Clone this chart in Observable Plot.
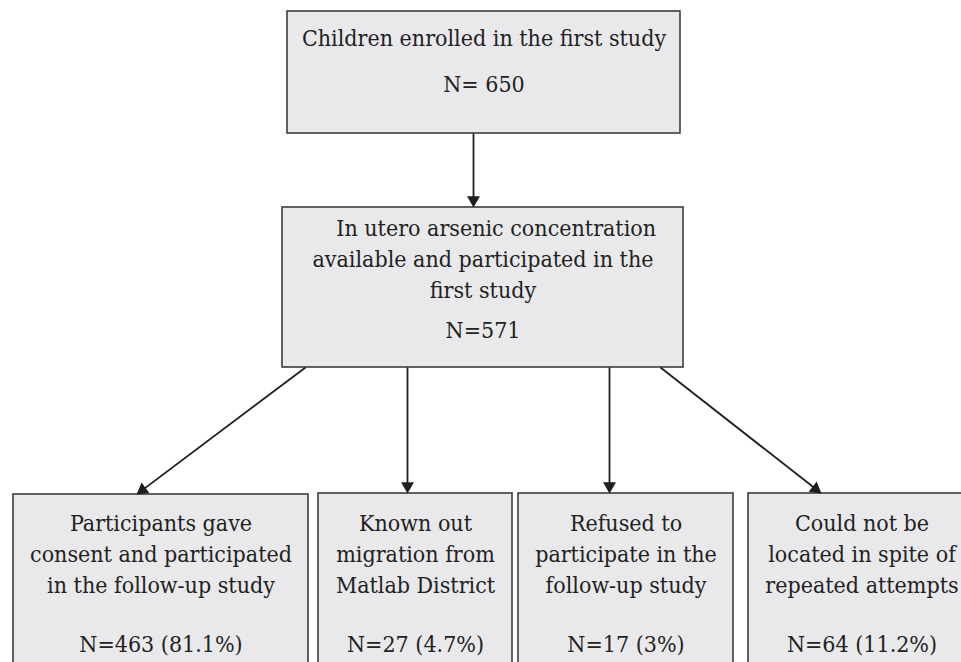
<!DOCTYPE html>
<html>
<head>
<meta charset="utf-8">
<script src="https://cdn.jsdelivr.net/npm/d3@7"></script>
<script src="https://cdn.jsdelivr.net/npm/@observablehq/plot@0.6"></script>
<style>
  html, body { margin: 0; padding: 0; background: #fff; overflow: hidden; }
  #chart { width: 961px; height: 662px; overflow: hidden; }
  #chart text { font-stretch: condensed; }
</style>
</head>
<body>
<div id="chart"></div>
<script>
// ---- Content ----
const stages = [
  "Children enrolled in the first study",
  "\u00a0\u00a0\u00a0\u00a0In utero arsenic concentration\navailable and participated in the\nfirst study",
  "Participants gave\nconsent and participated\nin the follow-up study",
  "Known out\nmigration from\nMatlab District",
  "Refused to\nparticipate in the\nfollow-up study",
  "Could not be\nlocated in spite of\nrepeated attempts"
];
const counts = [650, 571, 463, 27, 17, 64];
const percents = [null, null, "81.1%", "4.7%", "3%", "11.2%"];
const edgeFrom = [0, 1, 1, 1, 1];
const edgeTo = [1, 2, 3, 4, 5];

// ---- Layout (pixels) ----
const boxX1 = [287, 282, 13, 318, 518, 748];
const boxX2 = [680, 683, 308, 512, 733, 975];
const boxY1 = [11, 207, 494, 493, 493, 493];
const boxY2 = [133, 367, 690, 690, 690, 690];
const textBaseline = [40, 230, 525, 525, 525, 525];
const countBaseline = [91, 337, 651, 651, 651, 651];
const edgeStartX = [473, 305, 407, 609, 660];
const edgeEndX = [473, 136, 407, 609, 821];

const FS = 23;
const FONT = "'DejaVu Serif Condensed', 'DejaVu Serif', serif";
const boxes = stages.map((s, i) => ({
  label: s,
  count: i === 0 ? `N= ${counts[i]}` : (percents[i] ? `N=${counts[i]} (${percents[i]})` : `N=${counts[i]}`),
  x1: boxX1[i], x2: boxX2[i], y1: boxY1[i], y2: boxY2[i],
  cx: (boxX1[i] + boxX2[i]) / 2,
  ty: textBaseline[i] - 0.71 * FS,
  ny: countBaseline[i] - 0.71 * FS
}));

const R = 4.8;
const triY = Math.sqrt((Math.PI * R * R) / (3 * Math.sqrt(3)));
const edges = edgeFrom.map((f, k) => {
  const t = edgeTo[k];
  const x1 = edgeStartX[k], y1 = boxY2[f];
  const x2 = edgeEndX[k], y2 = boxY1[t];
  const dx = x2 - x1, dy = y2 - y1, len = Math.hypot(dx, dy);
  const ux = dx / len, uy = dy / len;
  return {
    x1, y1, x2, y2,
    hx: x2 - ux * 2 * triY, hy: y2 - uy * 2 * triY,
    lx: x2 - ux * 1.5 * triY, ly: y2 - uy * 1.5 * triY,
    rot: Math.atan2(dx, -dy) * 180 / Math.PI
  };
});

const plot = Plot.plot({
  width: 961,
  height: 662,
  margin: 0,
  x: { domain: [0, 961], axis: null },
  y: { domain: [662, 0], axis: null },
  style: { background: "#fff", fontFamily: FONT },
  marks: [
    Plot.rect(boxes, { x1: "x1", x2: "x2", y1: "y1", y2: "y2", fill: "#e9e9eb", stroke: "#3c3c3c", strokeWidth: 1.6 }),
    Plot.link(edges, { x1: "x1", y1: "y1", x2: "lx", y2: "ly", stroke: "#1e1e1e", strokeWidth: 1.8 }),
    Plot.dot(edges, { x: "hx", y: "hy", symbol: "triangle", r: R, rotate: "rot", fill: "#1e1e1e", stroke: "none" }),
    Plot.text(boxes, { x: "cx", y: "ty", text: "label", lineAnchor: "top", lineHeight: 31 / FS, fontSize: FS, fontFamily: FONT, fill: "#222", textAnchor: "middle" }),
    Plot.text(boxes, { x: "cx", y: "ny", text: "count", lineAnchor: "top", fontSize: FS, fontFamily: FONT, fill: "#222", textAnchor: "middle" })
  ]
});
document.getElementById("chart").appendChild(plot);
</script>
</body>
</html>
